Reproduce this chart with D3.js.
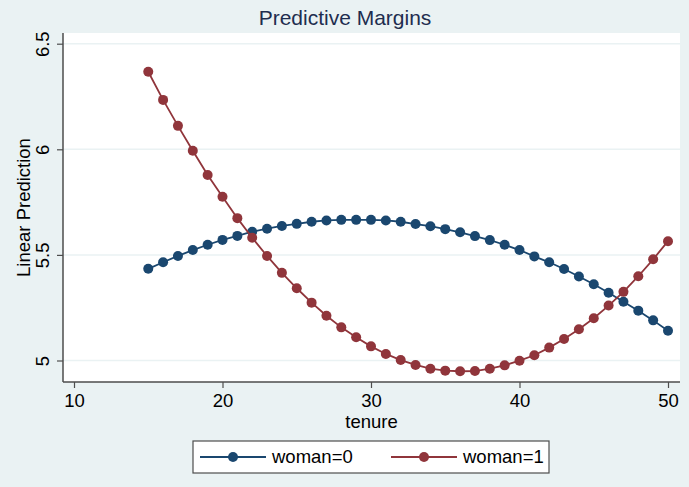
<!DOCTYPE html>
<html>
<head>
<meta charset="utf-8">
<script src="https://cdn.jsdelivr.net/npm/d3@7"></script>
<style>
    body { margin: 0; background: #eaf2f3; }
    svg { display: block; font-family: "Liberation Sans", Arial, sans-serif; }
</style>
</head>
<body>
<svg id="chart"></svg>
<script>
const tenure = d3.range(15, 51)

const woman0 = [
    5.434, 5.465, 5.495, 5.523, 5.548, 5.571, 5.590, 5.610, 5.624, 5.637,
    5.647, 5.657, 5.663, 5.666, 5.666, 5.666, 5.663, 5.657, 5.646, 5.636,
    5.622, 5.607, 5.589, 5.570, 5.548, 5.523, 5.493, 5.465, 5.433, 5.398,
    5.361, 5.321, 5.278, 5.236, 5.190, 5.141
]

const woman1 = [
    6.367, 6.234, 6.111, 5.993, 5.878, 5.775, 5.674, 5.581, 5.495, 5.415,
    5.342, 5.274, 5.212, 5.157, 5.110, 5.067, 5.031, 5.002, 4.979, 4.961,
    4.952, 4.949, 4.950, 4.961, 4.977, 4.999, 5.025, 5.061, 5.102, 5.148,
    5.200, 5.260, 5.325, 5.399, 5.479, 5.565
]

const seriesNames = ["woman=0", "woman=1"]
const xTicks = [10, 20, 30, 40, 50]
const yTicks = [5, 5.5, 6, 6.5]

const colors = ["#1a476f", "#90353b"]

const width = 689
const height = 487
const plot = { left: 63, right: 680, top: 33, bottom: 382 }
const fontSize = 18.5

const svg = d3.select("#chart").attr("width", width).attr("height", height)

svg.append("rect")
    .attr("width", width)
    .attr("height", height)
    .attr("fill", "#eaf2f3")

// x: 10 -> 74px, 50 -> 668px ; y: 5 -> 360.5px, 6.5 -> 43.7px
const x = d3.scaleLinear().domain([10, 50]).range([74, 668])
const y = d3.scaleLinear().domain([5, 6.5]).range([360.5, 43.7])

svg.append("rect")
    .attr("x", plot.left)
    .attr("y", plot.top)
    .attr("width", plot.right - plot.left)
    .attr("height", plot.bottom - plot.top)
    .attr("fill", "#ffffff")

// gridlines
svg.append("g")
    .selectAll("line")
    .data(yTicks)
    .join("line")
    .attr("x1", plot.left)
    .attr("x2", plot.right)
    .attr("y1", (d) => y(d))
    .attr("y2", (d) => y(d))
    .attr("stroke", "#eaf2f3")
    .attr("stroke-width", 1.5)

// axes
const yAxis = svg.append("g")
    .attr("transform", `translate(${plot.left},0)`)
    .call(d3.axisLeft(y).tickValues(yTicks).tickSize(6).tickFormat(d3.format("")))
yAxis.select(".domain").attr("d", `M0,${plot.top}V${plot.bottom}`).attr("stroke", "#4d4d4d").attr("stroke-width", 1.5)
yAxis.selectAll(".tick line").attr("stroke", "#4d4d4d").attr("stroke-width", 1.2)
yAxis.selectAll(".tick text")
    .attr("font-size", fontSize)
    .attr("fill", "#000")
    .attr("text-anchor", "middle")
    .attr("x", 0)
    .attr("y", 0)
    .attr("dy", 0)
    .attr("transform", "translate(-14,0) rotate(-90)")

const xAxis = svg.append("g")
    .attr("transform", `translate(0,${plot.bottom})`)
    .call(d3.axisBottom(x).tickValues(xTicks).tickSize(6).tickPadding(6))
xAxis.select(".domain").attr("d", `M${plot.left},0H${plot.right}`).attr("stroke", "#4d4d4d").attr("stroke-width", 1.5)
xAxis.selectAll(".tick line").attr("stroke", "#4d4d4d").attr("stroke-width", 1.2)
xAxis.selectAll(".tick text").attr("font-size", fontSize).attr("fill", "#000")

// titles
svg.append("text")
    .attr("x", 345)
    .attr("y", 25)
    .attr("text-anchor", "middle")
    .attr("font-size", 21)
    .attr("fill", "#1e2d4f")
    .text("Predictive Margins")

svg.append("text")
    .attr("x", (plot.left + plot.right) / 2)
    .attr("y", 428)
    .attr("text-anchor", "middle")
    .attr("font-size", fontSize)
    .attr("fill", "#000")
    .text("tenure")

svg.append("text")
    .attr("transform", `translate(30,${(plot.top + plot.bottom) / 2}) rotate(-90)`)
    .attr("text-anchor", "middle")
    .attr("font-size", fontSize)
    .attr("fill", "#000")
    .text("Linear Prediction")

// series
const series = [woman0, woman1].map((values, i) => ({
    name: seriesNames[i],
    color: colors[i],
    points: values.map((v, j) => ({ t: tenure[j], v }))
}))

const line = d3.line().x((d) => x(d.t)).y((d) => y(d.v))

const seriesG = svg.append("g")
    .selectAll("g")
    .data(series)
    .join("g")

seriesG.append("path")
    .attr("d", (s) => line(s.points))
    .attr("fill", "none")
    .attr("stroke", (s) => s.color)
    .attr("stroke-width", 1.8)

seriesG.selectAll("circle")
    .data((s) => s.points.map((p) => ({ ...p, color: s.color })))
    .join("circle")
    .attr("cx", (d) => x(d.t))
    .attr("cy", (d) => y(d.v))
    .attr("r", 5)
    .attr("fill", (d) => d.color)

// legend
const legend = svg.append("g")
legend.append("rect")
    .attr("x", 193)
    .attr("y", 441)
    .attr("width", 356)
    .attr("height", 32)
    .attr("fill", "#ffffff")
    .attr("stroke", "#4d4d4d")
    .attr("stroke-width", 1.2)

const legendX = [200, 391]
const items = legend.selectAll("g.item")
    .data(series)
    .join("g")
    .attr("class", "item")
    .attr("transform", (d, i) => `translate(${legendX[i]},457)`)

items.append("line")
    .attr("x1", 0)
    .attr("x2", 66)
    .attr("stroke", (d) => d.color)
    .attr("stroke-width", 1.8)

items.append("circle")
    .attr("cx", 33)
    .attr("r", 5)
    .attr("fill", (d) => d.color)

items.append("text")
    .attr("x", 72)
    .attr("dy", "0.35em")
    .attr("font-size", fontSize)
    .attr("fill", "#000")
    .text((d) => d.name)
</script>
</body>
</html>
